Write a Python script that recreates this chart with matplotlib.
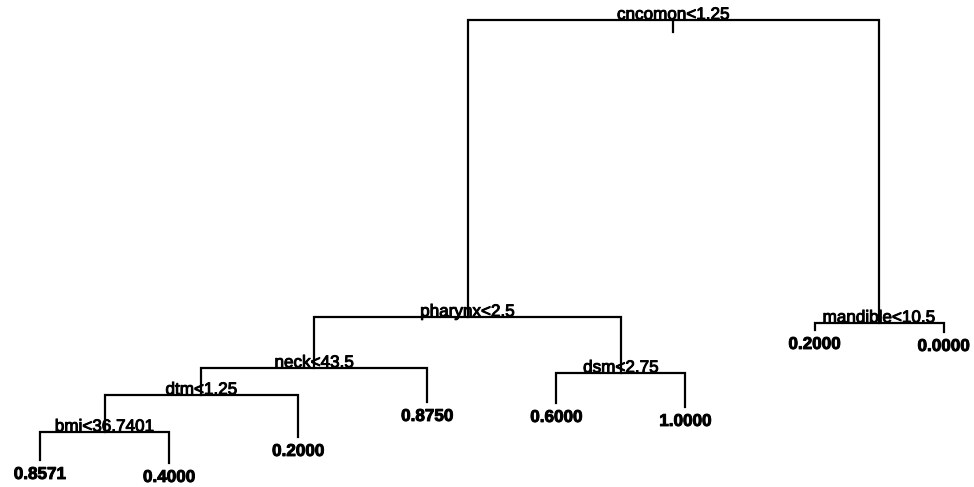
import matplotlib
matplotlib.use('Agg')
import matplotlib.pyplot as plt
import matplotlib.patheffects as pe

# rpart-style tree, nodes in preorder (rpart node numbering)
node = [1, 2, 4, 8, 16, 32, 33, 17, 9, 5, 10, 11, 3, 6, 7]
label = ['cncomon<1.25', 'pharynx<2.5', 'neck<43.5', 'dtm<1.25', 'bmi<36.7401',
         '0.8571', '0.4000', '0.2000', '0.8750', 'dsm<2.75', '0.6000', '1.0000',
         'mandible<10.5', '0.2000', '0.0000']
# node heights (deviance scale)
height = [4.67, 1.70, 1.19, 0.92, 0.55, 0.27, 0.24, 0.50, 0.85, 1.14, 0.84, 0.80,
          1.64, 1.57, 1.55]

nodes = set(node)
y = dict(zip(node, height))
lab = dict(zip(node, label))

# leaves spaced evenly in preorder, parents at the middle of their children
x = {}
leaf_i = 0
for n in node:
    if 2 * n not in nodes:
        x[n] = leaf_i
        leaf_i += 1


def xpos(n):
    if n not in x:
        x[n] = (xpos(2 * n) + xpos(2 * n + 1)) / 2.0
    return x[n]


for n in node:
    xpos(n)

fig = plt.figure(figsize=(9.74, 4.87), dpi=100)
ax = fig.add_axes([0, 0, 1, 1])
ax.set_xlim(-0.31, 7.235)
ax.set_ylim(0, 4.87)
ax.axis('off')

lw = 1.6
thick = [pe.withStroke(linewidth=0.7, foreground='black')]
for n in node:
    if 2 * n in nodes:
        l, r = 2 * n, 2 * n + 1
        ax.plot([x[l], x[l], x[r], x[r]], [y[l], y[n], y[n], y[r]],
                color='black', lw=lw, solid_joinstyle='miter')
        ax.annotate(lab[n], (x[n], y[n]), xytext=(0, 0.5), textcoords='offset points',
                    ha='center', va='baseline', fontsize=12.3,
                    family='Liberation Sans', path_effects=thick)
    else:
        ax.annotate(lab[n], (x[n], y[n]), xytext=(0, -5), textcoords='offset points',
                    ha='center', va='top', fontsize=12.3, fontweight='bold',
                    family='Liberation Sans', path_effects=thick)

# small stub under the root split
ax.plot([x[1], x[1]], [y[1], y[1] - 0.12], color='black', lw=lw)

fig.savefig('out.png', dpi=100)
